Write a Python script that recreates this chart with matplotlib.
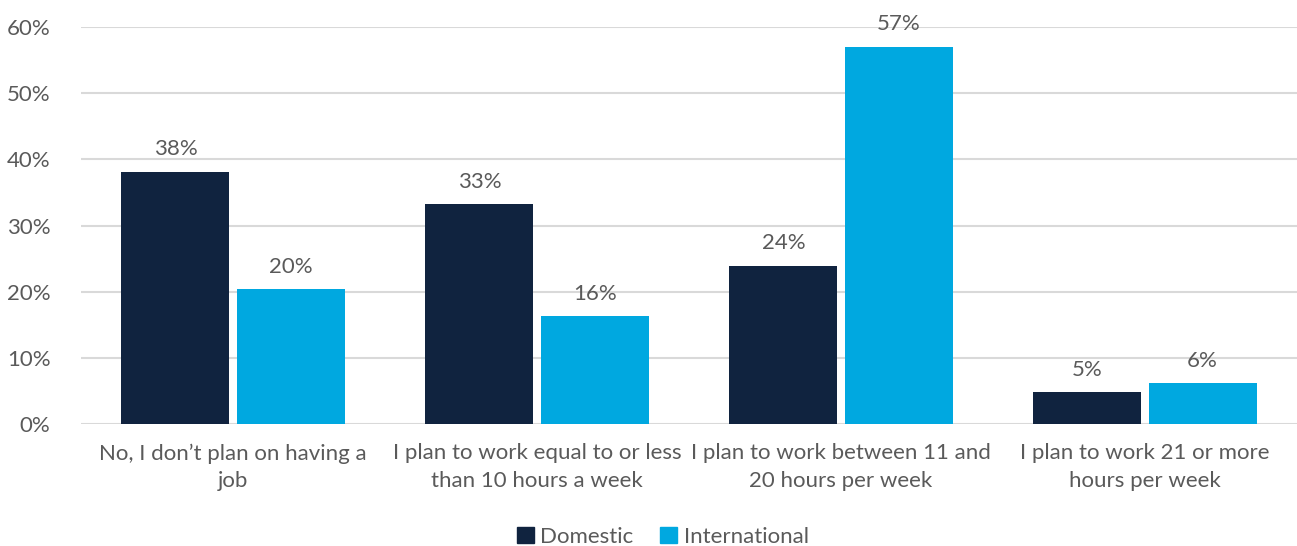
import matplotlib
matplotlib.use("Agg")
import matplotlib.pyplot as plt
import numpy as np
from matplotlib.patches import Patch

# Data
categories = [
    "No, I don\u2019t plan on having a\njob",
    "I plan to work equal to or less\nthan 10 hours a week",
    "I plan to work between 11 and\n20 hours per week",
    "I plan to work 21 or more\nhours per week",
]
domestic = [38.1, 33.2, 23.9, 4.8]
international = [20.4, 16.3, 57.0, 6.2]
domestic_labels = ["38%", "33%", "24%", "5%"]
international_labels = ["20%", "16%", "57%", "6%"]
y_ticks = [0, 10, 20, 30, 40, 50, 60]

DOM_COLOR = "#10233F"
INT_COLOR = "#00A8E0"
TEXT_COLOR = "#5A5A5A"

plt.rcParams["font.family"] = ["Lato", "DejaVu Sans"]

fig = plt.figure(figsize=(12.97, 5.46), dpi=100)
ax = fig.add_axes([0.0625, 0.2234, 0.9375, 0.7271])

x = np.arange(len(categories))
width = 0.355
gap = 0.012

bars_d = ax.bar(x - width / 2 - gap, domestic, width, color=DOM_COLOR, zorder=3)
bars_i = ax.bar(x + width / 2 + gap, international, width, color=INT_COLOR, zorder=3)

# Value labels above bars
for bars, labels in ((bars_d, domestic_labels), (bars_i, international_labels)):
    for b, lab in zip(bars, labels):
        ax.annotate(lab, (b.get_x() + b.get_width() / 2, b.get_height()),
                    xytext=(0, 9), textcoords="offset points",
                    ha="center", va="bottom", fontsize=16,
                    color=TEXT_COLOR, clip_on=False)

ax.set_xlim(-0.5, len(categories) - 0.5)
ax.set_ylim(0, 60)
ax.set_yticks(y_ticks)
ax.set_yticklabels([f"{t}%" for t in y_ticks])
ax.set_xticks(x)
ax.set_xticklabels(categories, linespacing=1.45)

ax.tick_params(axis="both", length=0, labelsize=16, labelcolor=TEXT_COLOR)
ax.tick_params(axis="y", pad=22)
ax.tick_params(axis="x", pad=14)

# Gridlines
ax.grid(axis="y", color="#D9D9D9", linewidth=1.5, zorder=0)
ax.set_axisbelow(True)
for s in ax.spines.values():
    s.set_visible(False)

# Legend
handles = [Patch(color=DOM_COLOR, label="Domestic"),
           Patch(color=INT_COLOR, label="International")]
fig.legend(handles=handles, loc="center", bbox_to_anchor=(0.511, 0.017),
           ncol=2, frameon=False, fontsize=16, labelcolor=TEXT_COLOR,
           handlelength=0.75, handleheight=0.75, handletextpad=0.3,
           columnspacing=1.2)

fig.savefig("out.png", dpi=100)
plt.close(fig)
